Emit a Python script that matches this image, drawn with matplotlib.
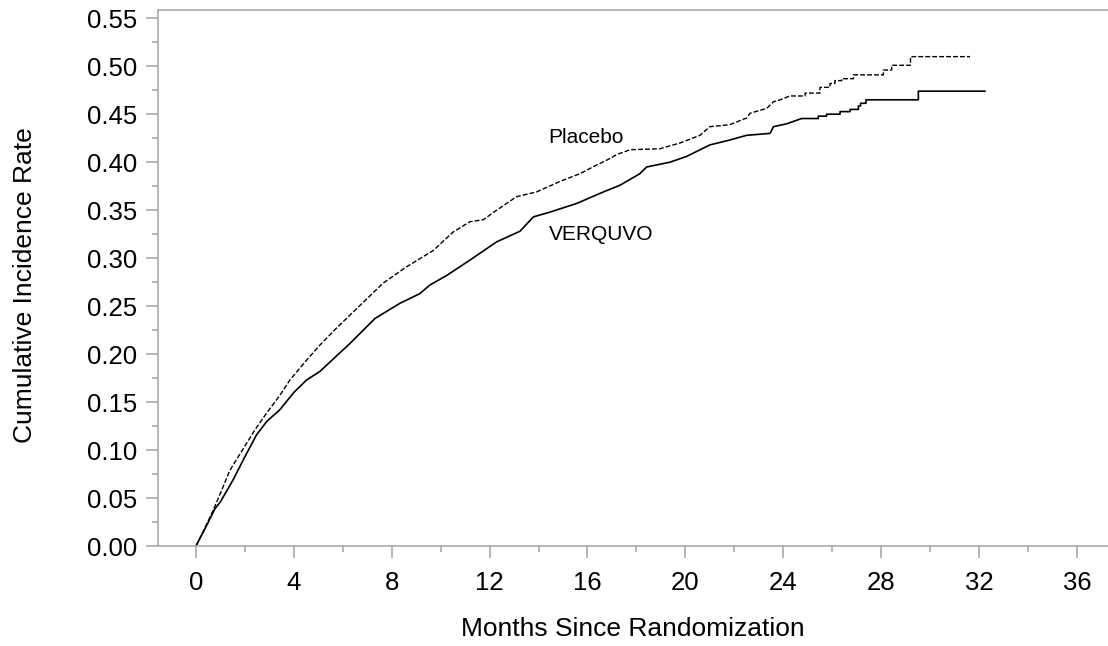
import matplotlib
matplotlib.use("Agg")
import matplotlib.pyplot as plt
from matplotlib.ticker import MultipleLocator, FormatStrFormatter

plt.rcParams['font.family'] = ['Liberation Sans', 'DejaVu Sans']

# ---- data (months, cumulative incidence) ----
placebo_t = [0, 0.35, 0.71, 1.0, 1.39, 1.9, 2.41, 2.9, 3.43, 3.84, 4.5, 5.07, 5.7, 6.43,
             7.0, 7.65, 8.61, 9.7, 10.5, 11.2, 11.74, 12.29, 13.1, 13.92, 14.88, 15.69,
             16.37, 16.78, 17.2, 17.74, 18.96, 19.78, 20.6, 21.0, 21.8, 22.5, 22.64,
             23.32, 23.6, 23.87, 24.27]
placebo_v = [0, 0.018, 0.0375, 0.055, 0.079, 0.100, 0.121, 0.139, 0.157, 0.173, 0.193,
             0.2095, 0.226, 0.244, 0.258, 0.274, 0.291, 0.308, 0.327, 0.338, 0.340, 0.350,
             0.364, 0.369, 0.380, 0.388, 0.397, 0.402, 0.408, 0.413, 0.414, 0.420, 0.428,
             0.437, 0.439, 0.446, 0.451, 0.456, 0.463, 0.465, 0.469]
# late step events (time of jump, new value) and end of follow-up
placebo_step_t = [24.89, 25.5, 25.91, 26.11, 26.39, 26.87, 28.09, 28.43, 29.2]
placebo_step_v = [0.472, 0.478, 0.482, 0.485, 0.487, 0.491, 0.496, 0.501, 0.510]
placebo_end = 31.63

verquvo_t = [0, 0.35, 0.78, 1.0, 1.52, 2.0, 2.48, 2.9, 3.43, 4.0, 4.52, 5.07, 5.7, 6.29,
             7.31, 8.34, 9.15, 9.56, 10.25, 11.2, 12.29, 13.24, 13.79, 14.47, 15.56,
             16.65, 17.33, 18.14, 18.42, 19.37, 20.05, 21.0, 21.8, 22.5, 23.46, 23.6,
             24.14, 24.75]
verquvo_v = [0, 0.017, 0.039, 0.046, 0.069, 0.093, 0.116, 0.130, 0.142, 0.160, 0.173,
             0.182, 0.197, 0.211, 0.237, 0.253, 0.263, 0.272, 0.282, 0.298, 0.317, 0.328,
             0.343, 0.348, 0.357, 0.369, 0.376, 0.388, 0.395, 0.400, 0.406, 0.418, 0.423,
             0.428, 0.430, 0.437, 0.440, 0.4455]
verquvo_step_t = [25.43, 25.77, 26.32, 26.73, 27.07, 27.16, 27.38, 29.52]
verquvo_step_v = [0.448, 0.450, 0.4527, 0.455, 0.4586, 0.4614, 0.465, 0.474]
verquvo_end = 32.24

x_ticks = [0, 4, 8, 12, 16, 20, 24, 28, 32, 36]
y_ticks = [0.00, 0.05, 0.10, 0.15, 0.20, 0.25, 0.30, 0.35, 0.40, 0.45, 0.50, 0.55]


def build(t, v, st, sv, end):
    xs, ys = list(t), list(v)
    for tt, vv in zip(st, sv):
        xs.append(tt); ys.append(ys[-1])
        xs.append(tt); ys.append(vv)
    xs.append(end); ys.append(ys[-1])
    return xs, ys


fig = plt.figure(figsize=(11.08, 6.46), dpi=100)
ax = fig.add_axes([158 / 1108, 1 - 546 / 646, 1 - 158 / 1108, (546 - 10) / 646])

px, py = build(placebo_t, placebo_v, placebo_step_t, placebo_step_v, placebo_end)
vx, vy = build(verquvo_t, verquvo_v, verquvo_step_t, verquvo_step_v, verquvo_end)
ax.plot(px, py, color='black', lw=1.0, linestyle=(0, (3.5, 1.5)))
ax.plot(vx, vy, color='black', lw=1.2, linestyle='-')

ax.text(14.38, 0.42, 'Placebo', fontsize=15, ha='left', va='baseline')
ax.text(14.42, 0.319, 'VERQUVO', fontsize=15, ha='left', va='baseline')

ax.set_xlim(-1.55, 37.27)
ax.set_ylim(0, 0.5586)
ax.set_xticks(x_ticks)
ax.set_yticks(y_ticks)
ax.yaxis.set_major_formatter(FormatStrFormatter('%.2f'))
ax.xaxis.set_minor_locator(MultipleLocator(2))
ax.yaxis.set_minor_locator(MultipleLocator(0.025))

gray = '#a9a9a9'
ax.spines['right'].set_visible(False)
for s in ['left', 'top', 'bottom']:
    ax.spines[s].set_color(gray)
    ax.spines[s].set_linewidth(1.2)

ax.tick_params(axis='both', which='major', direction='out', length=8.8, width=1.2,
               color=gray, labelsize=18.5, labelcolor='black')
ax.tick_params(axis='both', which='minor', direction='out', length=4.5, width=1.2,
               color=gray)
ax.tick_params(axis='x', which='major', pad=9.5)
ax.tick_params(axis='y', which='major', pad=6)

ax.set_xlabel('Months Since Randomization', fontsize=19)
ax.set_ylabel('Cumulative Incidence Rate', fontsize=19)
ax.xaxis.set_label_coords(0.5, -(617 - 546) / (546 - 10))
ax.yaxis.set_label_coords(-(158 - 37) / (1108 - 158), (546 - 285) / (546 - 10))

fig.savefig('out.png', dpi=100)
